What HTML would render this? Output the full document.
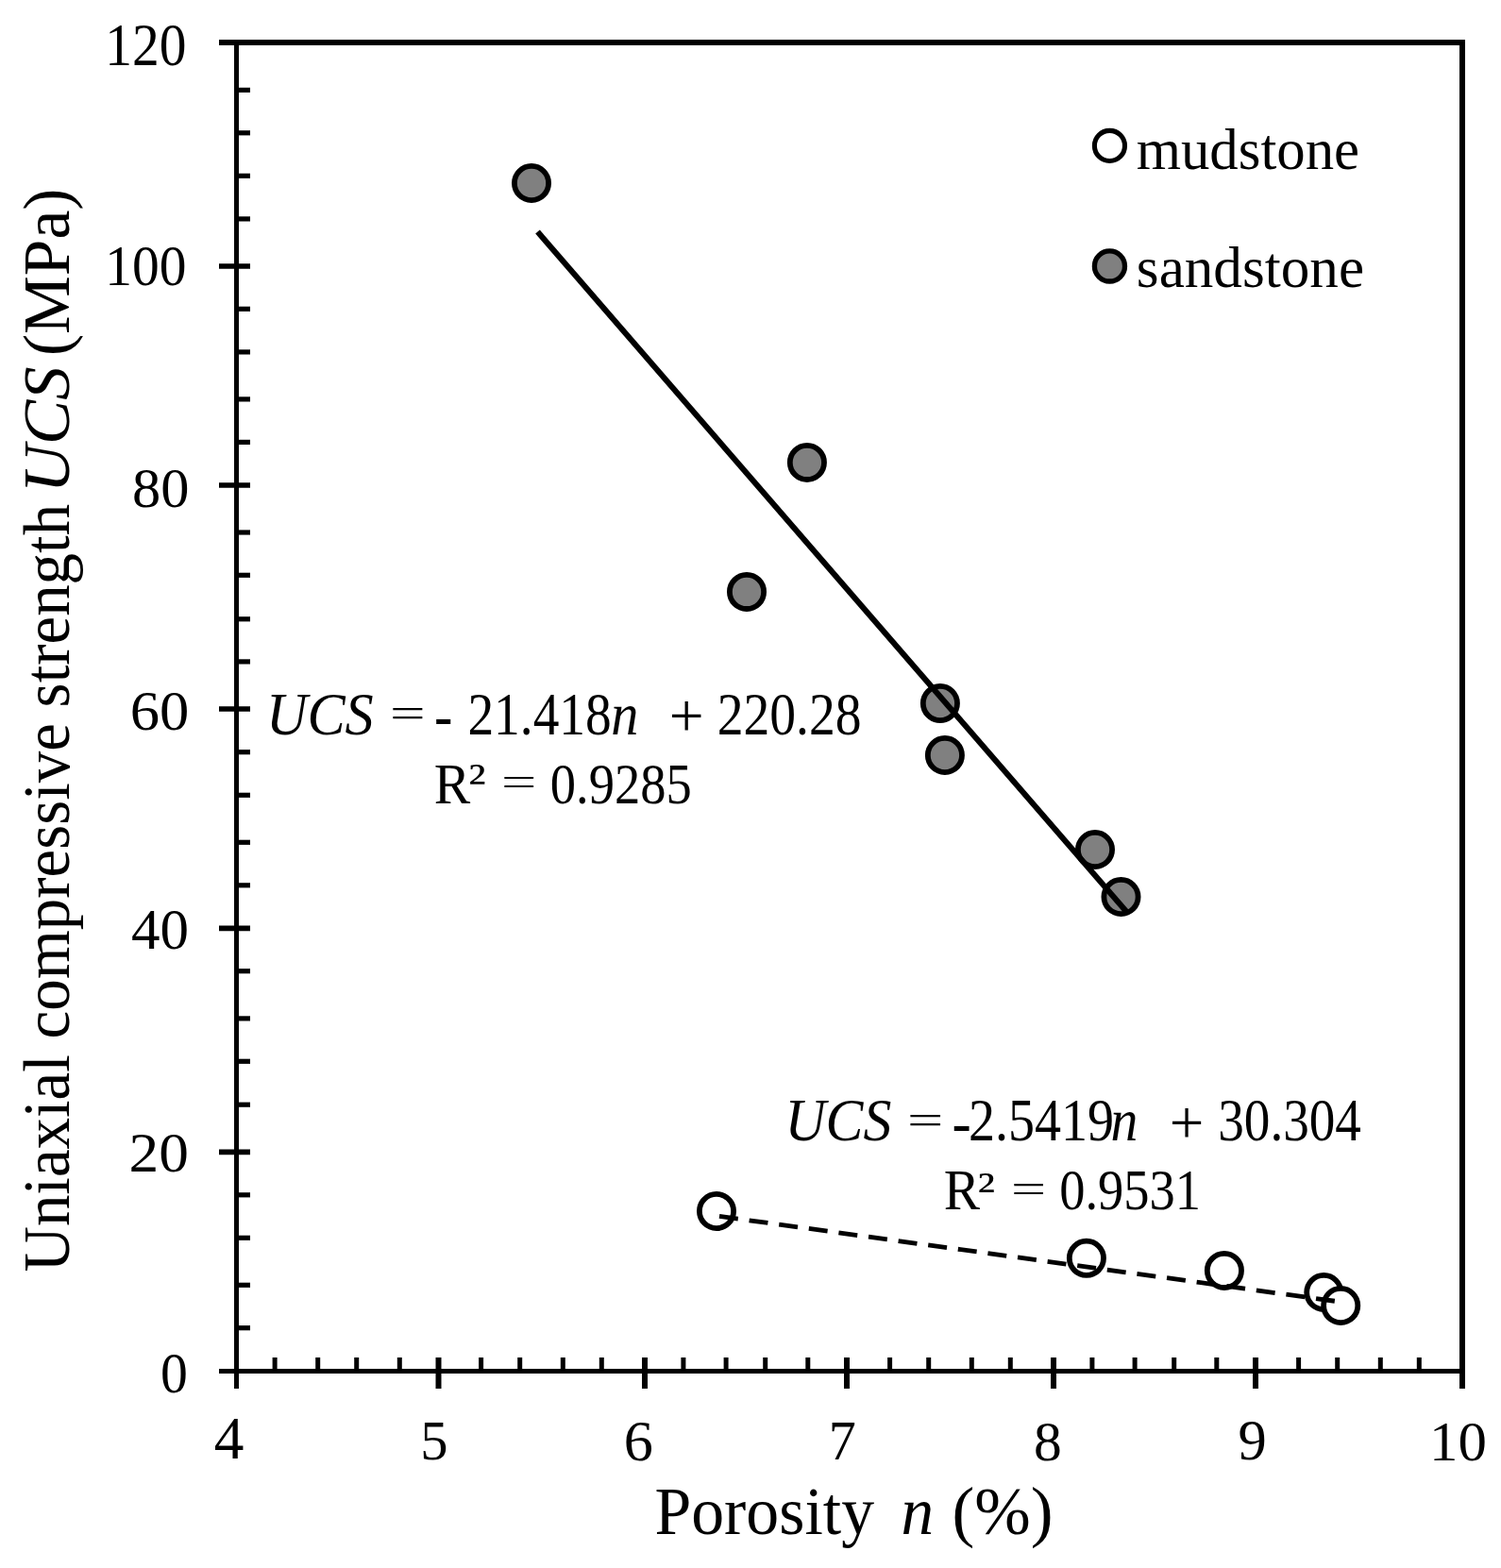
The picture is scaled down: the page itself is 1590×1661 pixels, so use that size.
<!DOCTYPE html>
<html><head><meta charset="utf-8"><title>UCS vs Porosity</title>
<style>
html,body{margin:0;padding:0;background:#fff;}
svg{display:block;}
text{font-family:'Liberation Serif', 'Times New Roman', serif;fill:#000;white-space:pre;}
.it{font-style:italic;}
</style></head><body>
<svg width="1590" height="1661" viewBox="0 0 1590 1661">
<rect x="0" y="0" width="1590" height="1661" fill="#fff"/>
<g stroke="#000" fill="none">
<line x1="232" y1="45" x2="1552" y2="45" stroke-width="6"/>
<line x1="232" y1="1452.5" x2="1552" y2="1452.5" stroke-width="5"/>
<line x1="250.5" y1="42" x2="250.5" y2="1471" stroke-width="5"/>
<line x1="1549" y1="42" x2="1549" y2="1471" stroke-width="6"/>
<line x1="232" y1="282" x2="265" y2="282" stroke-width="5.6"/>
<line x1="232" y1="514" x2="265" y2="514" stroke-width="5.6"/>
<line x1="232" y1="751" x2="265" y2="751" stroke-width="5.6"/>
<line x1="232" y1="983.4" x2="265" y2="983.4" stroke-width="5.6"/>
<line x1="232" y1="1220.4" x2="265" y2="1220.4" stroke-width="5.6"/>
<line x1="252" y1="95.4" x2="265" y2="95.4" stroke-width="5.2"/>
<line x1="252" y1="140.8" x2="265" y2="140.8" stroke-width="5.2"/>
<line x1="252" y1="186.3" x2="265" y2="186.3" stroke-width="5.2"/>
<line x1="252" y1="231.9" x2="265" y2="231.9" stroke-width="5.2"/>
<line x1="252" y1="327.3" x2="265" y2="327.3" stroke-width="5.2"/>
<line x1="252" y1="372.9" x2="265" y2="372.9" stroke-width="5.2"/>
<line x1="252" y1="422.9" x2="265" y2="422.9" stroke-width="5.2"/>
<line x1="252" y1="468.4" x2="265" y2="468.4" stroke-width="5.2"/>
<line x1="252" y1="564" x2="265" y2="564" stroke-width="5.2"/>
<line x1="252" y1="609.3" x2="265" y2="609.3" stroke-width="5.2"/>
<line x1="252" y1="655.8" x2="265" y2="655.8" stroke-width="5.2"/>
<line x1="252" y1="700.9" x2="265" y2="700.9" stroke-width="5.2"/>
<line x1="252" y1="796.7" x2="265" y2="796.7" stroke-width="5.2"/>
<line x1="252" y1="842.3" x2="265" y2="842.3" stroke-width="5.2"/>
<line x1="252" y1="892.3" x2="265" y2="892.3" stroke-width="5.2"/>
<line x1="252" y1="937.8" x2="265" y2="937.8" stroke-width="5.2"/>
<line x1="252" y1="1028.7" x2="265" y2="1028.7" stroke-width="5.2"/>
<line x1="252" y1="1078.9" x2="265" y2="1078.9" stroke-width="5.2"/>
<line x1="252" y1="1124.3" x2="265" y2="1124.3" stroke-width="5.2"/>
<line x1="252" y1="1170.2" x2="265" y2="1170.2" stroke-width="5.2"/>
<line x1="252" y1="1265.8" x2="265" y2="1265.8" stroke-width="5.2"/>
<line x1="252" y1="1311.3" x2="265" y2="1311.3" stroke-width="5.2"/>
<line x1="252" y1="1361.3" x2="265" y2="1361.3" stroke-width="5.2"/>
<line x1="252" y1="1406.7" x2="265" y2="1406.7" stroke-width="5.2"/>
<line x1="464.5" y1="1438" x2="464.5" y2="1471" stroke-width="6"/>
<line x1="683" y1="1438" x2="683" y2="1471" stroke-width="6"/>
<line x1="897" y1="1438" x2="897" y2="1471" stroke-width="6"/>
<line x1="1116" y1="1438" x2="1116" y2="1471" stroke-width="6"/>
<line x1="1330" y1="1438" x2="1330" y2="1471" stroke-width="6"/>
<line x1="291.1" y1="1438" x2="291.1" y2="1452" stroke-width="5"/>
<line x1="336.7" y1="1438" x2="336.7" y2="1452" stroke-width="5"/>
<line x1="377.7" y1="1438" x2="377.7" y2="1452" stroke-width="5"/>
<line x1="423.3" y1="1438" x2="423.3" y2="1452" stroke-width="5"/>
<line x1="509.6" y1="1438" x2="509.6" y2="1452" stroke-width="5"/>
<line x1="550.7" y1="1438" x2="550.7" y2="1452" stroke-width="5"/>
<line x1="596.3" y1="1438" x2="596.3" y2="1452" stroke-width="5"/>
<line x1="637.3" y1="1438" x2="637.3" y2="1452" stroke-width="5"/>
<line x1="723.9" y1="1438" x2="723.9" y2="1452" stroke-width="5"/>
<line x1="769.1" y1="1438" x2="769.1" y2="1452" stroke-width="5"/>
<line x1="810.7" y1="1438" x2="810.7" y2="1452" stroke-width="5"/>
<line x1="855.8" y1="1438" x2="855.8" y2="1452" stroke-width="5"/>
<line x1="942.6" y1="1438" x2="942.6" y2="1452" stroke-width="5"/>
<line x1="983.7" y1="1438" x2="983.7" y2="1452" stroke-width="5"/>
<line x1="1029.3" y1="1438" x2="1029.3" y2="1452" stroke-width="5"/>
<line x1="1070.3" y1="1438" x2="1070.3" y2="1452" stroke-width="5"/>
<line x1="1156.9" y1="1438" x2="1156.9" y2="1452" stroke-width="5"/>
<line x1="1202.1" y1="1438" x2="1202.1" y2="1452" stroke-width="5"/>
<line x1="1243.7" y1="1438" x2="1243.7" y2="1452" stroke-width="5"/>
<line x1="1288.8" y1="1438" x2="1288.8" y2="1452" stroke-width="5"/>
<line x1="1375.6" y1="1438" x2="1375.6" y2="1452" stroke-width="5"/>
<line x1="1416.7" y1="1438" x2="1416.7" y2="1452" stroke-width="5"/>
<line x1="1462.3" y1="1438" x2="1462.3" y2="1452" stroke-width="5"/>
<line x1="1503.3" y1="1438" x2="1503.3" y2="1452" stroke-width="5"/>
</g>
<circle cx="563" cy="194" r="18.1" fill="#808080" stroke="#000" stroke-width="5.8"/>
<circle cx="854.9" cy="489.9" r="18.1" fill="#808080" stroke="#000" stroke-width="5.8"/>
<circle cx="791" cy="626.9" r="18.1" fill="#808080" stroke="#000" stroke-width="5.8"/>
<circle cx="995.9" cy="745" r="18.1" fill="#808080" stroke="#000" stroke-width="5.8"/>
<circle cx="1000.9" cy="800" r="18.1" fill="#808080" stroke="#000" stroke-width="5.8"/>
<circle cx="1160" cy="900" r="18.1" fill="#808080" stroke="#000" stroke-width="5.8"/>
<circle cx="1187.5" cy="950" r="18.1" fill="#808080" stroke="#000" stroke-width="5.8"/>
<line x1="569.5" y1="245.6" x2="1195" y2="967.8" stroke="#000" stroke-width="6.1"/>
<circle cx="759" cy="1283" r="18.1" fill="#fff" stroke="#000" stroke-width="5.8"/>
<circle cx="1150.9" cy="1332.8" r="18.1" fill="#fff" stroke="#000" stroke-width="5.8"/>
<circle cx="1296.9" cy="1345.9" r="18.1" fill="#fff" stroke="#000" stroke-width="5.8"/>
<circle cx="1402.3" cy="1369" r="18.1" fill="#fff" stroke="#000" stroke-width="5.8"/>
<circle cx="1420.2" cy="1383" r="18.1" fill="#fff" stroke="#000" stroke-width="5.8"/>
<line x1="762" y1="1288.4" x2="1420" y2="1379.1" stroke="#000" stroke-width="4.8" stroke-dasharray="20 11.9"/>
<circle cx="1175.45" cy="154.4" r="16.05" fill="#fff" stroke="#000" stroke-width="5.1"/>
<circle cx="1175.45" cy="281.95" r="16.05" fill="#808080" stroke="#000" stroke-width="5.3"/>
<text transform="translate(197.45,68.95) scale(0.9197,1.0)" font-size="62.51" text-anchor="end">120</text>
<text transform="translate(197.45,302.1) scale(0.9332,1.0)" font-size="61.61" text-anchor="end">100</text>
<text transform="translate(200.35,536.75) scale(1.0061,1.0)" font-size="60.08" text-anchor="end">80</text>
<text transform="translate(200.35,772.95) scale(1.0521,1.0)" font-size="59.53" text-anchor="end">60</text>
<text transform="translate(200.0,1005.0) scale(0.999,1.0)" font-size="61.17" text-anchor="end">40</text>
<text transform="translate(200.0,1241.35) scale(1.0657,1.0)" font-size="59.53" text-anchor="end">20</text>
<text transform="translate(198.9,1474.9) scale(0.9585,1.0)" font-size="60.27" text-anchor="end">0</text>
<text transform="translate(242.7,1545.15)" font-size="63.32" text-anchor="middle">4</text>
<text transform="translate(459.8,1546.25)" font-size="58.56" text-anchor="middle">5</text>
<text transform="translate(676.3,1546.5)" font-size="62.25" text-anchor="middle">6</text>
<text transform="translate(892.3,1546.0)" font-size="58.13" text-anchor="middle">7</text>
<text transform="translate(1109.8,1546.95)" font-size="59.53" text-anchor="middle">8</text>
<text transform="translate(1326.5,1546.2)" font-size="60.51" text-anchor="middle">9</text>
<text transform="translate(1544.5,1546.95) scale(1.0229,1.0)" font-size="59.53" text-anchor="middle">10</text>
<text transform="translate(1203.7,179.2) scale(0.9856,1.0)" font-size="61.67">mudstone</text>
<text transform="translate(1203.85,304.25) scale(1.0046,1.0)" font-size="60.89">sandstone</text>
<text transform="translate(281.9,777.8) scale(0.9561,1.0)" font-size="63.03"><tspan class="it">UCS</tspan></text>
<text transform="translate(413.0,769.9) scale(1.0586,0.6875)" font-size="63.03">=</text>
<text transform="translate(460.0,779.9) scale(0.922,1.0617)" font-size="63.03">-</text>
<text transform="translate(495.4,777.8) scale(0.8788,1.0)" font-size="63.03">21.418</text>
<text transform="translate(647.2,777.8) scale(0.922,1.0)" font-size="63.03"><tspan class="it">n</tspan></text>
<text transform="translate(708.7,780.3) scale(1.0382,1.0487)" font-size="63.03">+</text>
<text transform="translate(759.7,777.8) scale(0.8824,1.0)" font-size="63.03">220.28</text>
<text transform="translate(459.8,850.5) scale(0.9448,1.0)" font-size="61.05">R</text>
<text transform="translate(496.1,845.2) scale(1.0268,0.8441)" font-size="61.05">²</text>
<text transform="translate(531.0,841.5) scale(1.0848,0.6814)" font-size="61.05">=</text>
<text transform="translate(582.8,850.5) scale(0.8929,1.0)" font-size="61.05">0.9285</text>
<text transform="translate(831.4,1208.0) scale(0.9531,1.0)" font-size="62.73"><tspan class="it">UCS</tspan></text>
<text transform="translate(960.9,1200.5) scale(1.084,0.6932)" font-size="62.73">=</text>
<text transform="translate(1008.4,1210.5) scale(0.9692,1.0617)" font-size="62.73">-</text>
<text transform="translate(1025.9,1208.0) scale(0.8939,1.0)" font-size="62.73">2.5419</text>
<text transform="translate(1176.6,1208.0) scale(0.9192,1.0)" font-size="62.73"><tspan class="it">n</tspan></text>
<text transform="translate(1238.7,1210.9) scale(1.035,1.0483)" font-size="62.73">+</text>
<text transform="translate(1290.2,1208.0) scale(0.8798,1.0)" font-size="62.73">30.304</text>
<text transform="translate(999.8,1281.2) scale(0.9262,1.0)" font-size="62.0">R</text>
<text transform="translate(1035.2,1276.5) scale(1.0203,0.8172)" font-size="62.0">²</text>
<text transform="translate(1071.0,1272.6) scale(1.0634,0.6814)" font-size="62.0">=</text>
<text transform="translate(1122.2,1281.2) scale(0.8793,1.0)" font-size="62.0">0.9531</text>
<text transform="translate(693.4,1625.2) scale(0.9611,1.0)" font-size="72.63">Porosity</text>
<text transform="translate(954.4,1625.2) scale(0.9536,1.0)" font-size="72.63"><tspan class="it">n</tspan></text>
<text transform="translate(1008.5,1625.2) scale(0.9831,1.0)" font-size="72.63">(%)</text>
<text transform="translate(72.5,1347.4) rotate(-90) scale(0.9704,1.0)" font-size="68.93">Uniaxial compressive strength</text>
<text transform="translate(72.5,522.2) rotate(-90) scale(1.0274,1.0)" font-size="68.93"><tspan class="it">UCS</tspan></text>
<text transform="translate(72.5,377.1) rotate(-90) scale(1.008,1.0)" font-size="68.93">(MPa)</text>
</svg>
</body></html>
